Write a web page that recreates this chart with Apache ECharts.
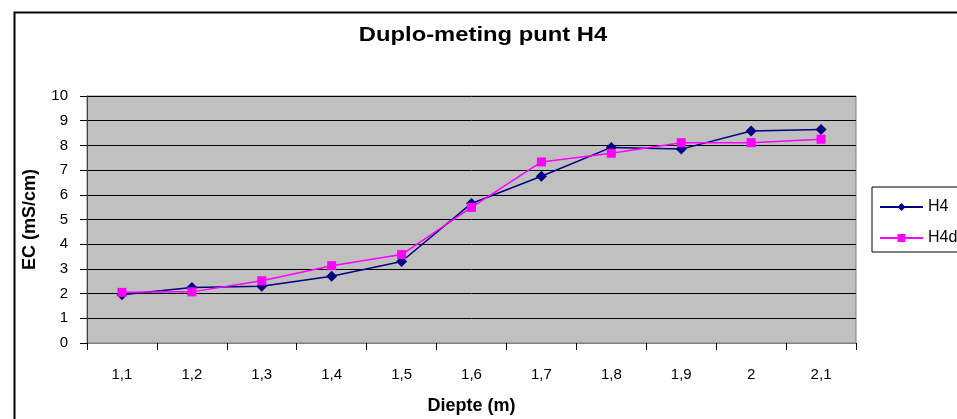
<!DOCTYPE html>
<html>
<head>
<meta charset="utf-8">
<script src="https://cdn.jsdelivr.net/npm/echarts@6/dist/echarts.min.js"></script>
<style>
  html, body { margin: 0; padding: 0; background: #fff; }
  #chart { width: 957px; height: 419px; }
</style>
</head>
<body>
<div id="chart"></div>
<script>
// Depth categories (m) and EC readings (mS/cm) for the duplicate measurement at point H4
const depths = ['1,1', '1,2', '1,3', '1,4', '1,5', '1,6', '1,7', '1,8', '1,9', '2', '2,1'];
const h4 = [1.95, 2.25, 2.3, 2.7, 3.3, 5.65, 6.75, 7.92, 7.85, 8.58, 8.64];
const h4d = [2.05, 2.07, 2.52, 3.13, 3.58, 5.49, 7.33, 7.68, 8.11, 8.11, 8.25];
const yTicks = [0, 1, 2, 3, 4, 5, 6, 7, 8, 9, 10];
const chartTitle = 'Duplo-meting punt H4';

const FONT = '"Liberation Sans", Arial, sans-serif';

const chart = echarts.init(document.getElementById('chart'), null, { renderer: 'canvas' });

chart.setOption({
  animation: false,
  backgroundColor: '#ffffff',
  graphic: [
    {
      // outer chart frame
      type: 'rect',
      left: 12, top: 10,
      shape: { width: 1000, height: 500 },
      style: { fill: 'none', stroke: '#000', lineWidth: 2 },
      silent: true,
      z: -1
    },
    {
      // chart title, slightly widened
      type: 'text',
      x: 483, y: 36,
      scaleX: 1.22,
      originX: 0,
      style: {
        text: chartTitle,
        fontFamily: FONT,
        fontSize: 19.5,
        fontWeight: 'bold',
        fill: '#000',
        align: 'center',
        verticalAlign: 'middle'
      },
      silent: true
    }
  ],
  legend: {
    orient: 'vertical',
    left: 872,
    top: 187,
    padding: [12, 40, 6, 7],
    itemGap: 15,
    itemWidth: 43,
    itemHeight: 10,
    backgroundColor: '#fff',
    borderColor: '#000',
    borderWidth: 1,
    borderRadius: 0,
    textStyle: { fontFamily: FONT, fontSize: 16, color: '#000' },
    data: ['H4', 'H4d']
  },
  grid: {
    left: 87, right: 101, top: 96, bottom: 76,
    containLabel: false,
    outerBoundsMode: 'none',
    show: true,
    backgroundColor: '#C0C0C0',
    borderColor: '#808080',
    borderWidth: 1
  },
  xAxis: {
    type: 'category',
    data: depths,
    boundaryGap: true,
    name: 'Diepte (m)',
    nameLocation: 'middle',
    nameGap: 54,
    nameTextStyle: { fontFamily: FONT, fontSize: 18, fontWeight: 'bold', color: '#000' },
    axisLine: { lineStyle: { color: '#808080', width: 1 } },
    axisTick: { show: true, length: 7, lineStyle: { color: '#000' } },
    axisLabel: { margin: 24, fontFamily: FONT, fontSize: 15, color: '#000' },
    splitLine: { show: false }
  },
  yAxis: {
    type: 'value',
    min: yTicks[0],
    max: yTicks[yTicks.length - 1],
    interval: 1,
    name: 'EC (mS/cm)',
    nameLocation: 'middle',
    nameGap: 48,
    nameTextStyle: { fontFamily: FONT, fontSize: 18, fontWeight: 'bold', color: '#000' },
    axisLine: { show: true, lineStyle: { color: '#404040', width: 1 } },
    axisTick: { show: true, length: 7, lineStyle: { color: '#000' } },
    axisLabel: { margin: 19, fontFamily: FONT, fontSize: 15, color: '#000' },
    splitLine: { show: true, lineStyle: { color: '#000', width: 1 } }
  },
  series: [
    {
      name: 'H4',
      type: 'line',
      data: h4,
      symbol: 'diamond',
      symbolSize: 11,
      showAllSymbol: true,
      itemStyle: { color: '#000080' },
      lineStyle: { color: '#000080', width: 1.5 },
      z: 3
    },
    {
      name: 'H4d',
      type: 'line',
      data: h4d,
      symbol: 'rect',
      symbolSize: 9,
      showAllSymbol: true,
      itemStyle: { color: '#FF00FF' },
      lineStyle: { color: '#FF00FF', width: 1.5 },
      z: 4
    }
  ]
});
</script>
</body>
</html>
